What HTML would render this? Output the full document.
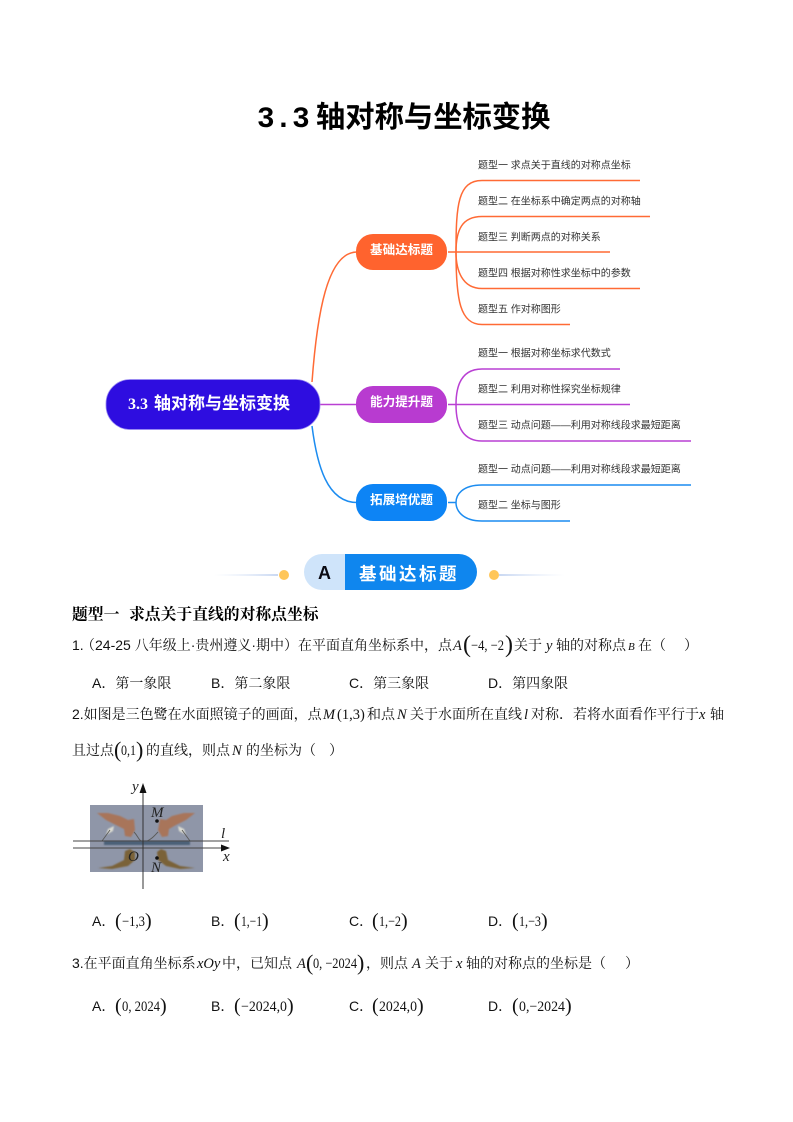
<!DOCTYPE html>
<html lang="zh">
<head>
<meta charset="utf-8">
<title>3.3 轴对称与坐标变换</title>
<style>
html,body{margin:0;padding:0;background:#fff;}
svg{display:block;}
text{white-space:pre;}
.t{font-family:"Liberation Sans","Noto Sans CJK SC",sans-serif;font-size:10px;fill:#333;}
.b{font-family:"Liberation Sans","Noto Serif CJK SC",serif;font-size:14px;fill:#111;}
.m{font-family:"Liberation Serif",serif;font-size:14.5px;fill:#111;}
.i{font-family:"Liberation Serif",serif;font-style:italic;font-size:14.5px;fill:#111;}
.p{font-family:"Liberation Serif",serif;font-size:20px;fill:#111;}
.n{font-family:"Noto Sans CJK SC",sans-serif;font-size:12.6px;font-weight:700;fill:#fff;text-anchor:middle;}
.l{font-family:"Liberation Serif",serif;font-style:italic;font-size:15px;fill:#222;}
</style>
</head>
<body>
<svg xmlns="http://www.w3.org/2000/svg" width="793" height="1122" viewBox="0 0 793 1122">
<defs>
<linearGradient id="gl" x1="0" x2="1" y1="0" y2="0"><stop offset="0" stop-color="#dfe8f8" stop-opacity="0"/><stop offset="1" stop-color="#c9d8f2"/></linearGradient>
<linearGradient id="gr" x1="0" x2="1" y1="0" y2="0"><stop offset="0" stop-color="#c9d8f2"/><stop offset="1" stop-color="#dfe8f8" stop-opacity="0"/></linearGradient>
<filter id="s"><feGaussianBlur stdDeviation="0.3"/></filter>
<filter id="bb"><feGaussianBlur stdDeviation="0.8"/></filter>
</defs>

<!-- Title -->
<text x="257" y="127" style="font-family:'Liberation Mono',monospace;font-weight:700;font-size:29.3px" fill="#000">3.3</text>
<text x="316" y="127" style="font-family:'Noto Sans CJK SC',sans-serif;font-weight:700;font-size:29.3px" fill="#000">轴对称与坐标变换</text>

<!-- Mind map -->
<g filter="url(#s)">
<g fill="none" stroke-width="1.5">
<g stroke="#ff6b35">
<path d="M312 382C317 315 327 252 357 252"/>
<path d="M448 252H610"/>
<path d="M456 252C456 205 458 180.500 482 180.500H640"/>
<path d="M456 252C456 230 462 216.500 482 216.500H650"/>
<path d="M456 252C456 270 462 288.500 482 288.500H640"/>
<path d="M456 252C456 300 460 324.500 482 324.500H570"/>
</g>
<g stroke="#b93fd3">
<path d="M320 404.500H357"/>
<path d="M448 404.500H630"/>
<path d="M456 404.500C456 385 462 369 482 369H620"/>
<path d="M456 404.500C456 425 462 441 482 441H691"/>
</g>
<g stroke="#1c8cf0">
<path d="M312 426C317 465 327 502.500 357 502.500"/>
<path d="M448 502.500H456"/>
<path d="M456 502.500C456 495 462 485 482 485H691"/>
<path d="M456 502.500C456 510 462 521 482 521H570"/>
</g>
</g>
<rect x="106" y="379.500" width="214" height="50" rx="24" fill="#2e10e0" stroke="#9b8cf2" stroke-width="0.8"/>
<text x="128" y="409" style="font-family:'Liberation Serif',serif;font-weight:700;font-size:16px" fill="#fff">3.3</text>
<text x="154" y="409" style="font-family:'Noto Sans CJK SC',sans-serif;font-weight:700;font-size:17px" fill="#fff">轴对称与坐标变换</text>
<rect x="356" y="234" width="91" height="36" rx="17" fill="#ff642d"/>
<rect x="356" y="386" width="91" height="37" rx="17" fill="#b83ad0"/>
<rect x="356" y="484" width="91" height="37" rx="17" fill="#0a84f5"/>
<text class="n" x="401.500" y="254">基础达标题</text>
<text class="n" x="401.500" y="406">能力提升题</text>
<text class="n" x="401.500" y="504">拓展培优题</text>

<text class="t" x="478" y="168.500">题型一 求点关于直线的对称点坐标</text>
<text class="t" x="478" y="204.500">题型二 在坐标系中确定两点的对称轴</text>
<text class="t" x="478" y="240.500">题型三 判断两点的对称关系</text>
<text class="t" x="478" y="276.500">题型四 根据对称性求坐标中的参数</text>
<text class="t" x="478" y="312.500">题型五 作对称图形</text>
<text class="t" x="478" y="356.500">题型一 根据对称坐标求代数式</text>
<text class="t" x="478" y="392.500">题型二 利用对称性探究坐标规律</text>
<text class="t" x="478" y="428.500">题型三 动点问题——利用对称线段求最短距离</text>
<text class="t" x="478" y="472.500">题型一 动点问题——利用对称线段求最短距离</text>
<text class="t" x="478" y="508.500">题型二 坐标与图形</text>
</g>

<!-- Section banner -->
<rect x="214" y="574" width="64" height="2" fill="url(#gl)"/>
<rect x="499" y="574" width="66" height="2" fill="url(#gr)"/>
<circle cx="284" cy="575" r="5" fill="#ffc659"/>
<circle cx="494" cy="575" r="5" fill="#ffc659"/>
<path d="M345 554H322a18 18 0 0 0 0 36H345Z" fill="#cfe4fa"/>
<path d="M345 554H459a18 18 0 0 1 0 36H345Z" fill="#0f86ee"/>
<text x="324.500" y="579" text-anchor="middle" style="font-family:'Liberation Sans',sans-serif;font-weight:700;font-size:18px" fill="#0b0b14">A</text>
<text x="359" y="580" style="font-family:'Noto Sans CJK SC',sans-serif;font-weight:700;font-size:17.5px;letter-spacing:2.5px" fill="#fff">基础达标题</text>

<!-- Heading -->
<text x="72" y="619.500" style="font-family:'Noto Serif CJK SC',serif;font-weight:700;font-size:15.8px" fill="#000">题型一</text>
<text x="129" y="619.500" style="font-family:'Noto Serif CJK SC',serif;font-weight:700;font-size:15.8px" fill="#000">求点关于直线的对称点坐标</text>

<!-- Q1 -->
<text class="b" x="72" y="650">1.</text>
<text class="b" x="81" y="650">（24-25 八年级上·贵州遵义·期中）在平面直角坐标系中，点</text>
<text class="i" x="453" y="650">A</text>
<text class="p" x="463" y="652" style="font-size:24px">(</text>
<text class="m" x="471" y="650" textLength="33" lengthAdjust="spacingAndGlyphs">−4, −2</text>
<text class="p" x="505" y="652" style="font-size:24px">)</text>
<text class="b" x="514" y="650">关于</text>
<text class="i" x="546" y="650">y</text>
<text class="b" x="556" y="650">轴的对称点</text>
<text class="i" x="628" y="650" style="font-size:11px">B</text>
<text class="b" x="638" y="650">在（</text>
<text class="b" x="684" y="650">）</text>

<!-- Q1 options -->
<g>
<text class="b" x="92" y="688">A．第一象限</text>
<text class="b" x="211" y="688">B．第二象限</text>
<text class="b" x="349" y="688">C．第三象限</text>
<text class="b" x="488" y="688">D．第四象限</text>
</g>

<!-- Q2 -->
<text class="b" x="72" y="719">2.如图是三色鹭在水面照镜子的画面，点</text>
<text class="i" x="323" y="719">M</text>
<text class="m" x="337" y="719">(1,3)</text>
<text class="b" x="367" y="719">和点</text>
<text class="i" x="397" y="719">N</text>
<text class="b" x="410" y="719">关于水面所在直线</text>
<text class="i" x="524" y="719">l</text>
<text class="b" x="531" y="719">对称．若将水面看作平行于</text>
<text class="i" x="699" y="719">x</text>
<text class="b" x="710" y="719">轴</text>

<text class="b" x="72" y="755">且过点</text>
<text class="p" x="114" y="757" style="font-size:22px">(</text>
<text class="m" x="121" y="755" textLength="15" lengthAdjust="spacingAndGlyphs">0,1</text>
<text class="p" x="136" y="757" style="font-size:22px">)</text>
<text class="b" x="146" y="755">的直线，则点</text>
<text class="i" x="232" y="755">N</text>
<text class="b" x="246" y="755">的坐标为（</text>
<text class="b" x="329" y="755">）</text>

<!-- Figure -->
<g>
<rect x="90" y="805" width="113" height="67" fill="#8f96a8"/>
<g filter="url(#bb)">
<path d="M97 813L108 813L120 816L128 820L134 819L135 830L131 837L125 836L124 829L116 825L106 820Z" fill="#a8755a"/>
<path d="M195 813L184 813L172 816L166 820L160 819L158 830L162 837L168 836L169 829L176 825L186 820Z" fill="#a8755a"/>
<path d="M98 868L112 866L124 860L125 851L130 849L135 852L135 860L128 866L112 869Z" fill="#7a6238"/>
<path d="M195 868L180 866L168 860L166 851L161 849L157 852L158 860L166 866L180 869Z" fill="#7a6238"/>
<path d="M108 829L114 826L113 831L106 835Z" fill="#dcdcd2"/>
<path d="M184 829L178 826L179 831L186 835Z" fill="#dcdcd2"/>
<rect x="104" y="841" width="86" height="4" fill="#4c6078"/>
</g>
<g stroke="#5a5a58" stroke-width="0.9" fill="none">
<path d="M134 832C138 836 138 839 141 841"/>
<path d="M158 832C154 836 152 839 147 841"/>
<path d="M110 830L102 841"/>
<path d="M182 830L190 841"/>
</g>
<path d="M73 841H229M73 848H224" stroke="#444" stroke-width="1.100" fill="none"/>
<path d="M143 889V786" stroke="#333" stroke-width="1" fill="none"/>
<path d="M143 783L146.500 793H139.500Z" fill="#111"/>
<path d="M230 848L221 844.500V851.500Z" fill="#111"/>
<circle cx="157" cy="821" r="1.800" fill="#111"/>
<circle cx="157" cy="858" r="1.800" fill="#111"/>
<text class="l" x="132" y="791">y</text>
<text class="l" x="151" y="817">M</text>
<text class="l" x="221" y="838">l</text>
<text class="l" x="223" y="861">x</text>
<text class="l" x="128" y="861">O</text>
<text class="l" x="151" y="872">N</text>
</g>

<!-- Q2 options -->
<text class="b" x="92" y="926">A．</text>
<text class="p" x="115" y="927">(</text><text class="m" x="122" y="926" textLength="23" lengthAdjust="spacingAndGlyphs">−1,3</text><text class="p" x="145" y="927">)</text>
<text class="b" x="211" y="926">B．</text>
<text class="p" x="234" y="927">(</text><text class="m" x="241" y="926" textLength="21" lengthAdjust="spacingAndGlyphs">1,−1</text><text class="p" x="262" y="927">)</text>
<text class="b" x="349" y="926">C．</text>
<text class="p" x="372" y="927">(</text><text class="m" x="379" y="926" textLength="22" lengthAdjust="spacingAndGlyphs">1,−2</text><text class="p" x="401" y="927">)</text>
<text class="b" x="488" y="926">D．</text>
<text class="p" x="512" y="927">(</text><text class="m" x="519" y="926" textLength="22" lengthAdjust="spacingAndGlyphs">1,−3</text><text class="p" x="541" y="927">)</text>

<!-- Q3 -->
<text class="b" x="72" y="968">3.在平面直角坐标系</text>
<text class="i" x="197" y="968">xOy</text>
<text class="b" x="222" y="968">中，已知点</text>
<text class="i" x="297" y="968">A</text>
<text class="p" x="306" y="970" style="font-size:22px">(</text>
<text class="m" x="313" y="968" textLength="44" lengthAdjust="spacingAndGlyphs">0, −2024</text>
<text class="p" x="357" y="970" style="font-size:22px">)</text>
<text class="b" x="366" y="968">，则点</text>
<text class="i" x="412" y="968">A</text>
<text class="b" x="425" y="968">关于</text>
<text class="i" x="456" y="968">x</text>
<text class="b" x="466" y="968">轴的对称点的坐标是（</text>
<text class="b" x="625" y="968">）</text>

<!-- Q3 options -->
<text class="b" x="92" y="1011">A．</text>
<text class="p" x="115" y="1012">(</text><text class="m" x="122" y="1011" textLength="38" lengthAdjust="spacingAndGlyphs">0, 2024</text><text class="p" x="160" y="1012">)</text>
<text class="b" x="211" y="1011">B．</text>
<text class="p" x="234" y="1012">(</text><text class="m" x="241" y="1011" textLength="46" lengthAdjust="spacingAndGlyphs">−2024,0</text><text class="p" x="287" y="1012">)</text>
<text class="b" x="349" y="1011">C．</text>
<text class="p" x="372" y="1012">(</text><text class="m" x="379" y="1011" textLength="38" lengthAdjust="spacingAndGlyphs">2024,0</text><text class="p" x="417" y="1012">)</text>
<text class="b" x="488" y="1011">D．</text>
<text class="p" x="512" y="1012">(</text><text class="m" x="519" y="1011" textLength="46" lengthAdjust="spacingAndGlyphs">0,−2024</text><text class="p" x="565" y="1012">)</text>
</svg>
</body>
</html>
